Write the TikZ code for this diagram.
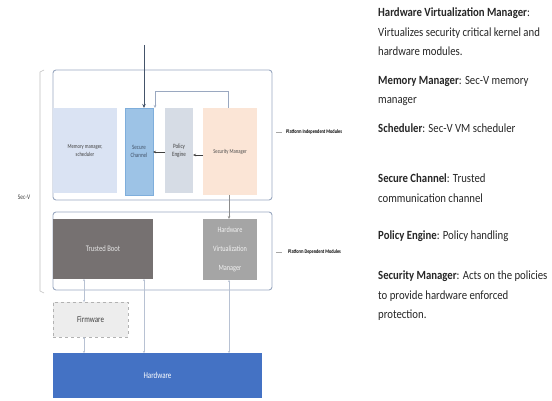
\documentclass[tikz,border=0pt]{standalone}
\usepackage{fontspec}
\setmainfont[FakeStretch=0.78]{Carlito}
\newfontfamily\legendfont[FakeStretch=0.86]{Carlito}
\usetikzlibrary{arrows.meta,calc}
\definecolor{mmfill}{HTML}{DAE3F3}
\definecolor{scfill}{HTML}{9DC3E6}
\definecolor{scdraw}{HTML}{7FAEDB}
\definecolor{pefill}{HTML}{D6DCE5}
\definecolor{smfill}{HTML}{FBE5D6}
\definecolor{tbfill}{HTML}{767171}
\definecolor{hvmfill}{HTML}{A5A5A5}
\definecolor{fwfill}{HTML}{EDEDED}
\definecolor{hwfill}{HTML}{4472C4}
\definecolor{frame}{HTML}{9AA8C0}
\definecolor{arrowblue}{HTML}{44546A}
\definecolor{txtgray}{HTML}{404040}
\begin{document}
\begin{tikzpicture}[x=1pt,y=-1pt,
  blk/.style={anchor=north west,inner sep=0pt,outer sep=0pt,align=center,text=txtgray},
  modframe/.style={draw=frame,line width=0.9pt,rounded corners=3pt},
  arr/.style={draw=txtgray,line width=0.6pt,-{Stealth[length=3pt,width=2.5pt]}},
  thin/.style={draw=frame!70,line width=0.5pt,{Stealth[length=2pt,width=2pt]}-{Stealth[length=2pt,width=2pt]}},
  lbl/.style={font=\fontsize{5.5}{6.5}\selectfont,text=black,anchor=west,inner sep=0pt},
  legend/.style={anchor=north west,align=left,inner sep=0pt,font=\legendfont\fontsize{12.5}{19.5}\selectfont,text=black!85}
]
\path[use as bounding box] (0,0) rectangle (552,401);

% Sec-V bracket
\draw[black!25,line width=0.6pt] (44,70) -- (40,72) -- (40,291) -- (44,293);
\node[font=\fontsize{7}{8}\selectfont,text=txtgray] (secv) at (24,197) {Sec-V};

% module frames
\draw[modframe] (53,70) rectangle (272,200);
\coordinate (pimR) at (272,132);
\draw[modframe] (53,212) rectangle (272,290);
\coordinate (pdmR) at (272,252);
\draw[black!35,line width=0.5pt] ($(pimR)+(4,0)$) -- ++(6,0) coordinate (pimL);
\draw[black!35,line width=0.5pt] ($(pdmR)+(4,0)$) -- ++(6,0) coordinate (pdmL);
\node[lbl] (pim) at ($(pimL)+(4,0)$) {\textbf{Platform Independent Modules}};
\node[lbl] (pdm) at ($(pdmL)+(6,0)$) {\textbf{Platform Dependent Modules}};

% upper blocks
\node[blk,fill=mmfill,minimum width=64pt,minimum height=85pt,font=\fontsize{6}{8}\selectfont] (mm) at (53,108) {Memory manager,\\scheduler};
\node[blk,fill=scfill,draw=scdraw,line width=0.5pt,minimum width=28pt,minimum height=87pt,font=\fontsize{6.5}{8}\selectfont,text=arrowblue] (sc) at (125,108) {Secure\\Channel};
\node[blk,fill=pefill,minimum width=28pt,minimum height=85pt,font=\fontsize{6.5}{8}\selectfont] (pe) at (165,108) {Policy\\Engine};
\node[blk,fill=smfill,minimum width=54pt,minimum height=87pt,font=\fontsize{6}{8}\selectfont,text=black!70] (sm) at (203,108) {Security Manager};

% lower blocks
\node[blk,fill=tbfill,minimum width=100pt,minimum height=60pt,font=\fontsize{8.5}{10}\selectfont,text=white!90!black] (tb) at (53,219) {Trusted Boot};
\node[blk,fill=hvmfill,minimum width=54pt,minimum height=61pt,font=\fontsize{8}{19}\selectfont,text=white!95!black] (hvm) at (203,219) {Hardware\\Virtualization\\Manager};
\node[blk,fill=fwfill,draw=black!30,dashed,line width=0.5pt,minimum width=75pt,minimum height=35pt,font=\fontsize{9}{10}\selectfont,text=black!75] (fw) at (53,302) {Firmware};
\node[blk,fill=hwfill,minimum width=209pt,minimum height=45pt,font=\fontsize{9}{10}\selectfont,text=white] (hw) at (53,353) {Hardware};

% arrows
\coordinate (top) at (144,45);
\draw[draw=arrowblue,line width=1pt,-{Stealth[length=4pt,width=3.5pt]}] (top) -- (top |- sc.north);
\draw[arr] (pe.west |- 0,152) -- (sc.east |- 0,152);
\draw[arr] (sm.west |- 0,155) -- (pe.east |- 0,155);
\draw[draw=frame,line width=0.8pt,-{Stealth[length=3pt,width=2.5pt]}] ([xshift=-2pt]sm.north) -- ++(0,-17) -| ([xshift=2pt]sc.north east);
\draw[draw=black!45,line width=0.7pt,-{Stealth[length=3pt,width=2.5pt]}] ([xshift=-1pt]sm.south) -- ([xshift=-1pt]sm.south |- hvm.north);

% thin connectors
\draw[thin] (tb.south -| 84,0) -- (fw.north -| 84,0);
\draw[thin] (fw.south -| 84,0) -- (hw.north -| 84,0);
\draw[thin] (tb.south -| 144,0) -- (hw.north -| 144,0);
\draw[thin] (hvm.south -| 229,0) -- (hw.north -| 229,0);

% legend
\node[legend] (l1) at (378,8) {\textbf{Hardware Virtualization Manager}:\\Virtualizes security critical kernel and\\hardware modules.};
\node[legend] (l2) at (378,76) {\textbf{Memory Manager}: Sec-V memory\\manager};
\node[legend] (l3) at (378,124) {\textbf{Scheduler}: Sec-V VM scheduler};
\node[legend] (l4) at (378,174) {\textbf{Secure Channel}: Trusted\\communication channel};
\node[legend] (l5) at (378,231) {\textbf{Policy Engine}: Policy handling};
\node[legend] (l6) at (378,271) {\textbf{Security Manager}: Acts on the policies\\to provide hardware enforced\\protection.};
\end{tikzpicture}
\end{document}
